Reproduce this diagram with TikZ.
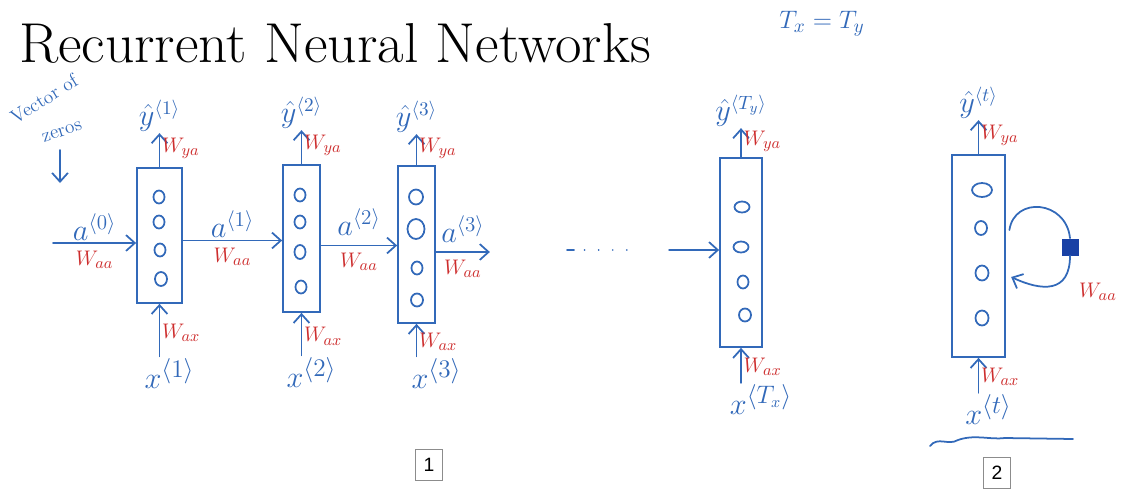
\documentclass[tikz,border=0pt]{standalone}
\usepackage{tikz}
\usepackage{amsmath}
\usepackage{fontspec}
\newfontfamily\numfont{Liberation Sans}
\usetikzlibrary{arrows.meta, positioning}
\definecolor{inkblue}{RGB}{50,105,185}
\definecolor{inkred}{RGB}{205,45,45}
\definecolor{inkdark}{RGB}{25,65,165}

\begin{document}
\begin{tikzpicture}[x=0.02cm, y=-0.02cm,
    every node/.style={inner sep=1pt},
    cell/.style={draw=inkblue, line width=1pt},
    hline/.style={draw=inkblue, line width=1pt, line cap=round},
    harr/.style={hline, -{Straight Barb[length=5pt,width=9pt]}},
    alab/.style={text=inkblue, font=\fontsize{18}{20}\selectfont},
    ylab/.style={text=inkblue, font=\fontsize{16}{18}\selectfont},
    xlab/.style={text=inkblue, font=\fontsize{19}{21}\selectfont},
    wlab/.style={text=inkred, font=\fontsize{13}{15}\selectfont},
    numbox/.style={draw=black!45, font=\numfont\fontsize{11}{13}\selectfont,
                   minimum width=0.55cm, minimum height=0.62cm},
]
\useasboundingbox (0,0) rectangle (1121,490);

%% ── Title ────────────────────────────────────────────────────────────────────
\node[anchor=base west, font=\fontsize{32}{36}\selectfont] (title) at (17,62)
  {\scalebox{1.025}[1]{Recurrent Neural Networks}};
\node[alab, font=\fontsize{15}{17}\selectfont] (txty) at (822,24) {$T_x = T_y$};

%% ── Cells ────────────────────────────────────────────────────────────────────
\node[cell, minimum width=0.9cm,  minimum height=2.7cm]  (c1) at (159.5,235.5) {};
\node[cell, minimum width=0.74cm, minimum height=2.94cm] (c2) at (301.5,238.5) {};
\node[cell, minimum width=0.74cm, minimum height=3.14cm] (c3) at (416.5,244.5) {};
\node[cell, minimum width=0.84cm, minimum height=3.78cm] (c4) at (741,252.5) {};
\node[cell, minimum width=1.06cm, minimum height=4.04cm] (c5) at (978.5,256) {};

% hidden units
\foreach \cx/\cy/\rx/\ry in {159/197/.11/.13, 159/222/.11/.13, 160/250/.11/.13, 161/279/.12/.14,
                     300/195/.11/.13, 300/222/.11/.13, 300/252/.11/.14, 301/287/.11/.13,
                     416/197/.14/.15, 416/229/.17/.2, 417/268/.11/.13, 417/300/.12/.13,
                     742/207/.15/.11, 741/247/.15/.11, 743/282/.11/.13, 745/315/.12/.13,
                     982/190/.2/.14, 981/228/.12/.14, 982/273/.13/.15, 982/318/.13/.15}
  \draw[hline] (\cx,\cy) ellipse [x radius=\rx cm, y radius=\ry cm];

%% ── Outputs y^<t> ────────────────────────────────────────────────────────────
\node[ylab, above=0.68cm of c1]  (y1) {$\hat{y}^{\langle 1\rangle}$};
\node[ylab, above=0.68cm of c2]  (y2) {$\hat{y}^{\langle 2\rangle}$};
\node[ylab, above=0.62cm of c3]  (y3) {$\hat{y}^{\langle 3\rangle}$};
\node[ylab, above=0.58cm of c4]  (y4) {$\hat{y}^{\langle T_y\rangle}$};
\node[ylab, above=0.68cm of c5]  (y5) {$\hat{y}^{\langle t\rangle}$};

\foreach \i in {1,...,5}
  \draw[harr] (c\i.north) -- node[wlab, right, pos=0.55]{$W_{ya}$} (y\i.south);

%% ── Inputs x^<t> ─────────────────────────────────────────────────────────────
\node[xlab, below=1.05cm of c1, xshift=0.2cm] (x1) {$x^{\langle 1\rangle}$};
\node[xlab, below=0.85cm of c2, xshift=0.2cm] (x2) {$x^{\langle 2\rangle}$};
\node[xlab, below=0.65cm of c3, xshift=0.4cm] (x3) {$x^{\langle 3\rangle}$};
\node[xlab, below=0.7cm of c4, xshift=0.4cm]  (x4) {$x^{\langle T_x\rangle}$};
\node[xlab, below=0.7cm of c5, xshift=0.2cm]  (x5) {$x^{\langle t\rangle}$};

\foreach \i in {1,...,5}
  \draw[harr] (c\i.south |- x\i.north) -- node[wlab, right, pos=0.45]{$W_{ax}$} (c\i.south);

%% ── Activations a^<t> ────────────────────────────────────────────────────────
\node[ylab, font=\fontsize{11}{12}\selectfont, rotate=32] (vec) at (44,99) {Vector of};
\node[ylab, font=\fontsize{11}{12}\selectfont, rotate=18] (zeros) at (62,132) {zeros};
\draw[harr] (zeros.center) ++(-2,18) -- ++(0,33);

\coordinate (a0s) at (53,243);
\draw[harr] (a0s) -- node[alab, above]{$a^{\langle 0\rangle}$}
  node[wlab, below=3pt]{$W_{aa}$} (a0s -| c1.west);
\draw[harr] ([yshift=-0.1cm]c1.east) -- node[alab, above]{$a^{\langle 1\rangle}$}
  node[wlab, below=3pt]{$W_{aa}$} ([yshift=-0.1cm]c1.east -| c2.west);
\draw[harr] ([yshift=-0.14cm]c2.east) -- node[alab, above=4pt]{$a^{\langle 2\rangle}$}
  node[wlab, below=3pt]{$W_{aa}$} ([yshift=-0.14cm]c2.east -| c3.west);
\draw[harr] ([yshift=-0.15cm]c3.east) -- node[alab, above=4pt]{$a^{\langle 3\rangle}$}
  node[wlab, below=3pt]{$W_{aa}$} ++(54,0);

% ... up to the last step
\coordinate (dots) at (567,250);
\draw[hline, dash pattern=on 4pt off 6pt on 0.01pt off 8pt on 0.01pt off 8pt
      on 0.01pt off 8pt on 0.01pt off 30pt] (dots) -- ++(82,0);
\draw[harr] ([xshift=-1cm, yshift=0.05cm]c4.west) -- ([yshift=0.05cm]c4.west);

%% ── Rolled cell: recurrence loop ─────────────────────────────────────────────
\node[fill=inkdark, minimum size=0.34cm, inner sep=0pt] (sq) at (1070,247) {};
\draw[hline] ([xshift=2pt, yshift=0.52cm]c5.east) .. controls +(5,-34) and +(-4,-38) .. (sq.north);
\draw[harr] (sq.south) .. controls +(0,38) and +(30,14) .. ([xshift=3pt, yshift=-0.42cm]c5.east);
\node[wlab] (waa5) at (1098,292) {$W_{aa}$};

\draw[hline] (930,446) .. controls (938,436) and (948,446) .. (958,440)
  .. controls (975,434) and (990,440) .. (1005,438) -- (1073,439);

%% ── Panel numbers ────────────────────────────────────────────────────────────
\node[numbox] (n1) at (429,465) {1};
\node[numbox] (n2) at (997,473) {2};

\end{tikzpicture}
\end{document}
